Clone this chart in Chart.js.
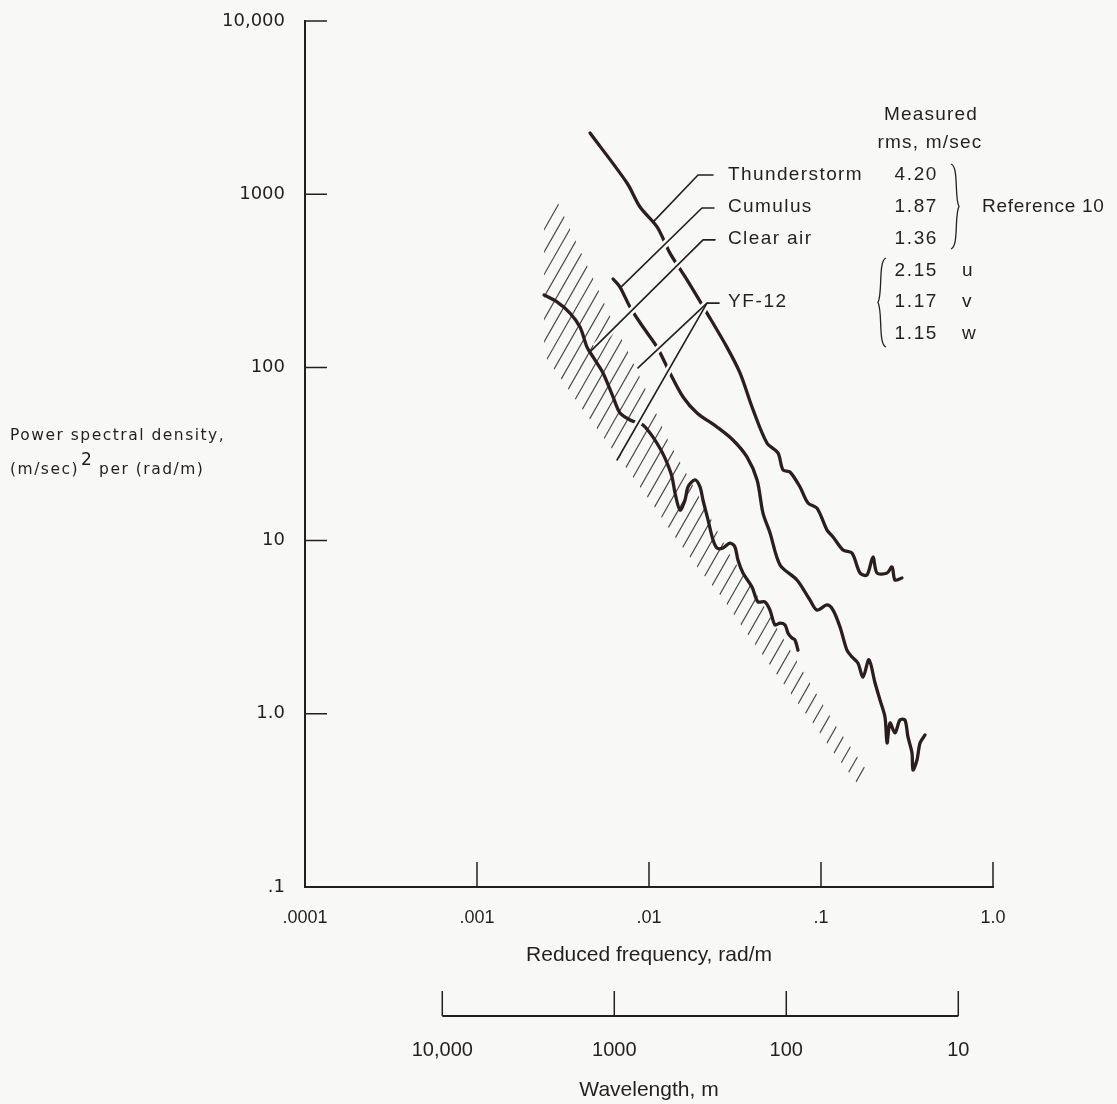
<!DOCTYPE html>
<html lang="en">
<head>
<meta charset="UTF-8">
<meta name="viewport" content="width=device-width, initial-scale=1.0">
<title>Turbulence power spectral density</title>
<script src="https://cdn.jsdelivr.net/npm/chart.js@4.4.1/dist/chart.umd.min.js"></script>
<style type="text/css">
    body { margin: 0; background: #f8f8f7; }
    canvas { display: block; }
</style>
</head>
<body>
<canvas id="psd" width="1117" height="1104"></canvas>
<script>
var INK = '#231f20';
var CURVE = '#2a1e1f';
var HATCH = '#4a4a4a';
var BG = '#f8f8f7';
var WIDE = '"DejaVu Sans", Verdana, sans-serif';
var NARROW = '"Liberation Sans Narrow", "Liberation Sans", Arial, sans-serif';

// axis ticks
var freqTicks = [0.0001, 0.001, 0.01, 0.1, 1];
var freqTickLabels = ['.0001', '.001', '.01', '.1', '1.0'];
var psdTicks = [0.1, 1, 10, 100, 1000, 10000];
var psdTickLabels = ['.1', '1.0', '10', '100', '1000', '10,000'];
var waveTicks = [10000, 1000, 100, 10];
var waveTickLabels = ['10,000', '1000', '100', '10'];

// legend table
var refNames = ['Thunderstorm', 'Cumulus', 'Clear air'];
var refRms = ['4.20', '1.87', '1.36'];
var yfRms = ['2.15', '1.17', '1.15'];
var yfComp = ['u', 'v', 'w'];

// spectra, reduced frequency (rad/m) vs PSD
var thunderFreq = [0.00454, 0.00745, 0.00887, 0.01114, 0.01324, 0.01664, 0.02173, 0.02837, 0.0338, 0.0403,
    0.0485, 0.0562, 0.0601, 0.0660, 0.0755, 0.0840, 0.0948, 0.1084, 0.1175, 0.1343,
    0.1514, 0.1686, 0.1850, 0.2005, 0.2117, 0.2421, 0.2589, 0.2692, 0.2955];
var thunderPsd = [2255, 1161, 843, 647, 457, 320, 206, 131, 92.9, 56.8,
    36.6, 32.1, 25.6, 24.9, 20.4, 16.5, 15.4, 11.5, 10.5, 8.83,
    8.47, 6.50, 6.33, 8.04, 6.50, 6.50, 7.05, 5.92, 6.08];

var cumulusFreq = [0.00618, 0.00678, 0.00776, 0.00923, 0.01114, 0.01324, 0.01578, 0.01902, 0.02483, 0.03076,
    0.0371, 0.0425, 0.0460, 0.0505, 0.0578, 0.0725, 0.0863, 0.0948, 0.1084, 0.1175,
    0.1290, 0.1415, 0.1514, 0.1641, 0.1754, 0.1900, 0.2060, 0.2203, 0.2355, 0.2421,
    0.2518, 0.2692, 0.2877, 0.3076, 0.3204, 0.3381, 0.3426, 0.3614, 0.3765, 0.4026];
var cumulusPsd = [324, 291, 223, 171, 131, 92.9, 67.5, 54.6, 45.3, 38.1,
    30.4, 22.4, 14.4, 11.1, 7.23, 5.92, 4.54, 3.97, 4.25, 3.97,
    3.17, 2.33, 2.13, 1.96, 1.63, 2.05, 1.51, 1.20, 0.959, 0.678,
    0.885, 0.775, 0.921, 0.921, 0.735, 0.594, 0.474, 0.541, 0.678, 0.755];

var clearFreq = [0.002455, 0.002917, 0.003473, 0.003970, 0.004361, 0.004725, 0.005402, 0.00618, 0.00678, 0.00776,
    0.00830, 0.00923, 0.01055, 0.01190, 0.01273, 0.01361, 0.01417, 0.01514, 0.01619, 0.01685,
    0.01850, 0.01979, 0.02061, 0.02203, 0.02355, 0.02483, 0.02692, 0.02955, 0.0316, 0.0329,
    0.0352, 0.0397, 0.0430, 0.0472, 0.0505, 0.0540, 0.0578, 0.0618, 0.0643, 0.0678,
    0.0706, 0.0735];
var clearPsd = [262, 239, 206, 171, 131, 115, 92.9, 67.5, 54.6, 49.7,
    48.4, 46.5, 39.6, 32.5, 28.1, 23.3, 18.8, 15.0, 17.1, 20.4,
    22.4, 20.4, 17.1, 13.2, 10.1, 9.06, 9.06, 9.68, 9.19, 7.73,
    6.50, 5.40, 4.43, 4.43, 3.97, 3.26, 3.34, 3.26, 2.92, 2.74,
    2.67, 2.33];

// YF-12 band (hatched), upper and lower edges
var bandUpperFreq = [0.002958, 0.003715, 0.004725, 0.005929, 0.007549, 0.009727, 0.01288, 0.01730, 0.02264, 0.02958,
    0.0425, 0.0578, 0.0840, 0.1222, 0.1803];
var bandUpperPsd = [889, 545, 328, 198, 123, 72.1, 38.1, 22.4, 13.7, 8.26,
    4.85, 2.92, 1.57, 0.851, 0.486];
var bandLowerFreq = [0.002455, 0.002455, 0.00312, 0.00413, 0.00570, 0.00776, 0.01055, 0.01417, 0.01928, 0.0265,
    0.0352, 0.0472, 0.0643, 0.0887, 0.1190, 0.1618];
var bandLowerPsd = [638, 118, 84.5, 56.8, 37.1, 24.5, 16.1, 10.5, 6.95, 4.72,
    3.13, 2.10, 1.37, 0.897, 0.594, 0.398];

// leader lines from the labels
var thunderLeadFreq = [0.02355, 0.01928, 0.01055];
var thunderLeadPsd = [1291, 1291, 690];
var cumulusLeadFreq = [0.02387, 0.02032, 0.00678];
var cumulusLeadPsd = [832, 832, 287];
var clearLeadFreq = [0.02421, 0.02061, 0.00454];
var clearLeadPsd = [545, 545, 123];
var yfLeadFreq = [0.02553, 0.02173, 0.00863];
var yfLeadPsd = [235, 235, 99.3];
var yfLead2Freq = [0.02173, 0.00652];
var yfLead2Psd = [235, 29.2];

function pts(fs, vs) {
    return fs.map(function (f, i) { return {x: f, y: vs[i]}; });
}

function curve(label, fs, vs) {
    return {
        label: label, data: pts(fs, vs), order: 2,
        borderColor: CURVE, borderWidth: 3.3, tension: 0.3
    };
}

function leader(fs, vs) {
    return {
        data: pts(fs, vs), order: 0, leader: true,
        borderColor: INK, borderWidth: 1.6, tension: 0
    };
}

function put(ctx, s, x, y, align, font, spacing) {
    ctx.font = font;
    ctx.textAlign = align;
    ctx.textBaseline = 'middle';
    ctx.letterSpacing = (spacing || 0) + 'px';
    ctx.fillText(s, x, y);
}

function brace(ctx, x, y0, y1, dir, w) {
    var ym = (y0 + y1) / 2, h = y1 - y0;
    ctx.beginPath();
    ctx.moveTo(x, y0);
    ctx.bezierCurveTo(x + dir * w, y0 + h * 0.03, x + dir * w * 0.4, ym - h * 0.1, x + dir * w, ym);
    ctx.bezierCurveTo(x + dir * w * 0.4, ym + h * 0.1, x + dir * w, y1 - h * 0.03, x, y1);
    ctx.stroke();
}

var drafting = {
    id: 'drafting',
    beforeDraw: function (chart) {
        var ctx = chart.ctx;
        ctx.save();
        ctx.fillStyle = BG;
        ctx.fillRect(0, 0, chart.width, chart.height);
        ctx.restore();
        chart.$halos = false;
    },
    beforeDatasetsDraw: function (chart) {
        // hatch the YF-12 band
        var idx = chart.data.datasets.findIndex(function (d) { return d.band; });
        var p = chart.getDatasetMeta(idx).data;
        var ctx = chart.ctx;
        var K = 0.57;
        var nUp = bandUpperFreq.length;
        var cTop = p[0].x + K * p[0].y;
        var cBot = p[nUp - 1].x + K * p[nUp - 1].y;
        var n = Math.round((cBot - cTop) / 12.9);
        var step = (cBot - cTop - 2.4) / n;
        var top = Infinity, bot = -Infinity;
        p.forEach(function (q) { top = Math.min(top, q.y); bot = Math.max(bot, q.y); });
        ctx.save();
        ctx.beginPath();
        p.forEach(function (q, i) { if (i) ctx.lineTo(q.x, q.y); else ctx.moveTo(q.x, q.y); });
        ctx.closePath();
        ctx.clip();
        ctx.strokeStyle = HATCH;
        ctx.lineWidth = 1.2;
        ctx.beginPath();
        for (var i = 0; i <= n; i++) {
            var c = cBot - 1.2 - i * step;
            ctx.moveTo(c - K * (top - 5), top - 5);
            ctx.lineTo(c - K * (bot + 5), bot + 5);
        }
        ctx.stroke();
        ctx.restore();
    },
    beforeDatasetDraw: function (chart, args) {
        if (!chart.data.datasets[args.index].leader || chart.$halos) return;
        chart.$halos = true;
        var ctx = chart.ctx;
        ctx.save();
        ctx.strokeStyle = BG;
        ctx.lineWidth = 7;
        ctx.lineCap = 'butt';
        chart.data.datasets.forEach(function (d, i) {
            if (!d.leader) return;
            var p = chart.getDatasetMeta(i).data;
            var a = p[p.length - 2], b = p[p.length - 1];
            var len = Math.hypot(b.x - a.x, b.y - a.y);
            var ex = b.x - (b.x - a.x) * 7 / len, ey = b.y - (b.y - a.y) * 7 / len;
            ctx.beginPath();
            ctx.moveTo(p[0].x, p[0].y);
            for (var j = 1; j < p.length - 1; j++) ctx.lineTo(p[j].x, p[j].y);
            ctx.lineTo(ex, ey);
            ctx.stroke();
        });
        ctx.restore();
    },
    afterDraw: function (chart) {
        var ctx = chart.ctx, ca = chart.chartArea;
        var xs = chart.scales.x, ys = chart.scales.y, ws = chart.scales.x2;
        ctx.save();
        ctx.strokeStyle = INK;
        ctx.fillStyle = INK;

        // inward ticks
        ctx.lineWidth = 1.5;
        ctx.beginPath();
        psdTicks.forEach(function (v) {
            if (v === psdTicks[0]) return;
            var py = ys.getPixelForValue(v);
            ctx.moveTo(ca.left, py);
            ctx.lineTo(ca.left + 22, py);
        });
        freqTicks.forEach(function (v) {
            if (v === freqTicks[0]) return;
            var px = xs.getPixelForValue(v);
            ctx.moveTo(px, ca.bottom);
            ctx.lineTo(px, ca.bottom - 25);
        });
        ctx.stroke();

        // wavelength scale
        var wy = ws.top + 44;
        ctx.lineWidth = 2;
        ctx.beginPath();
        ctx.moveTo(ws.getPixelForValue(waveTicks[0]), wy);
        ctx.lineTo(ws.getPixelForValue(waveTicks[waveTicks.length - 1]), wy);
        ctx.stroke();
        ctx.lineWidth = 1.5;
        ctx.beginPath();
        waveTicks.forEach(function (v) {
            var px = ws.getPixelForValue(v);
            ctx.moveTo(px, wy);
            ctx.lineTo(px, wy - 25);
        });
        ctx.stroke();

        // y title
        put(ctx, 'Power spectral density,', 10, 436, 'left', '15.5px ' + WIDE, 1.5);
        put(ctx, '(m/sec)', 10, 470, 'left', '15.5px ' + WIDE, 1.5);
        var w1 = ctx.measureText('(m/sec)').width;
        put(ctx, '2', 12 + w1, 461, 'left', '17px ' + WIDE, 0);
        put(ctx, 'per (rad/m)', 30 + w1, 470, 'left', '15.5px ' + WIDE, 1.5);

        // legend table
        var lf = '19px ' + NARROW;
        put(ctx, 'Measured', 931, 115, 'center', lf, 1.2);
        put(ctx, 'rms, m/sec', 930, 143, 'center', lf, 1.2);
        var rowY = [175, 207, 239];
        refNames.forEach(function (s, i) {
            put(ctx, s, 728, rowY[i], 'left', lf, 1.4);
            put(ctx, refRms[i], 938, rowY[i], 'right', lf, 1.6);
        });
        put(ctx, 'Reference 10', 982, 207, 'left', lf, 0.7);
        var yfY = [271, 302, 334];
        put(ctx, 'YF-12', 728, 302, 'left', lf, 1.6);
        yfRms.forEach(function (s, i) {
            put(ctx, s, 938, yfY[i], 'right', lf, 1.6);
            put(ctx, yfComp[i], 962, yfY[i], 'left', lf, 0);
        });
        ctx.lineWidth = 1.3;
        brace(ctx, 951, 164, 249, 1, 8);
        brace(ctx, 886, 258, 347, -1, 8);
        ctx.restore();
    }
};

var bandSet = {
    label: 'YF-12', band: true, order: 3,
    data: pts(bandUpperFreq, bandUpperPsd).concat(pts(bandLowerFreq, bandLowerPsd).reverse()),
    showLine: false, pointRadius: 0, borderWidth: 0
};

var chart = new Chart(document.getElementById('psd'), {
    type: 'scatter',
    data: {
        datasets: [
            curve('Thunderstorm', thunderFreq, thunderPsd),
            curve('Cumulus', cumulusFreq, cumulusPsd),
            curve('Clear air', clearFreq, clearPsd),
            bandSet,
            leader(thunderLeadFreq, thunderLeadPsd),
            leader(cumulusLeadFreq, cumulusLeadPsd),
            leader(clearLeadFreq, clearLeadPsd),
            leader(yfLeadFreq, yfLeadPsd),
            leader(yfLead2Freq, yfLead2Psd)
        ]
    },
    options: {
        responsive: false,
        animation: false,
        events: [],
        layout: { padding: { left: 0, right: 124, top: 21, bottom: 0 } },
        datasets: {
            scatter: { showLine: true, pointRadius: 0, fill: false, borderJoinStyle: 'round', borderCapStyle: 'round' }
        },
        plugins: { legend: { display: false }, tooltip: { enabled: false } },
        scales: {
            x: {
                type: 'logarithmic', position: 'bottom', weight: 0, min: 0.0001, max: 1,
                afterBuildTicks: function (s) { s.ticks = freqTicks.map(function (v) { return {value: v}; }); },
                afterFit: function (s) { s.height = 85; },
                grid: { drawOnChartArea: false, drawTicks: false },
                border: { color: INK, width: 2 },
                ticks: {
                    padding: 20, maxRotation: 0, autoSkip: false, color: INK,
                    font: { family: NARROW, size: 18 },
                    callback: function (v, i) { return freqTickLabels[i]; }
                },
                title: {
                    display: true, text: 'Reduced frequency, rad/m', color: INK,
                    font: { family: NARROW, size: 21 }, padding: { top: 0, bottom: 4 }
                }
            },
            x2: {
                type: 'logarithmic', position: 'bottom', weight: 1, reverse: true,
                min: 2 * Math.PI / 1, max: 2 * Math.PI / 0.0001,
                afterBuildTicks: function (s) { s.ticks = waveTicks.map(function (v) { return {value: v}; }); },
                afterFit: function (s) { s.height = 132; },
                grid: { display: false, drawTicks: false },
                border: { display: false },
                ticks: {
                    padding: 66, maxRotation: 0, autoSkip: false, color: INK,
                    font: { family: NARROW, size: 20 },
                    callback: function (v, i) { return waveTickLabels[i]; }
                },
                title: {
                    display: true, text: 'Wavelength, m', color: INK,
                    font: { family: NARROW, size: 21 }, padding: { top: 0, bottom: 1 }
                }
            },
            y: {
                type: 'logarithmic', position: 'left', min: 0.1, max: 10000,
                afterBuildTicks: function (s) { s.ticks = psdTicks.map(function (v) { return {value: v}; }); },
                afterFit: function (s) { s.width = 305; s.paddingTop = 0; s.paddingBottom = 0; },
                grid: { drawOnChartArea: false, drawTicks: false },
                border: { color: INK, width: 2 },
                ticks: {
                    padding: 20, autoSkip: false, color: INK,
                    font: { family: WIDE, size: 18 },
                    callback: function (v, i) { return psdTickLabels[i]; }
                }
            }
        }
    },
    plugins: [drafting]
});
</script>
</body>
</html>
